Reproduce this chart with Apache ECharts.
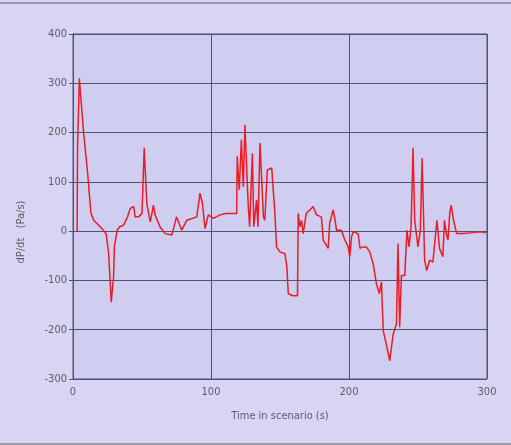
<!DOCTYPE html>
<html>
<head>
<meta charset="utf-8">
<script src="https://cdn.jsdelivr.net/npm/echarts@6/dist/echarts.min.js"></script>
<style>
  html, body { margin: 0; padding: 0; background: #d7d5f3; }
  #chart { width: 511px; height: 445px; }
</style>
</head>
<body>
<div id="chart"></div>
<script>
// time in scenario (s)
var times = [3, 3.3, 4.6, 7.7, 10.6, 13, 15, 18.6, 22, 24, 25.8, 27.7, 29.4, 30, 32, 33.8, 36.6, 39.5, 41.5, 44,
  45, 47.5, 50, 51.6, 53.5, 56, 58.3, 59.5, 63, 66.8, 71.6, 75, 78.8, 82.4, 89.7, 92, 93.8, 95.7, 98, 101.7,
  106.6, 111, 116, 118.6, 119, 120.5, 122, 123.4, 124.6, 125.8, 127, 128, 130, 131, 133, 134, 135.5, 138, 139, 140.8,
  144, 145, 146.3, 147.5, 150, 153.6, 155, 156, 159.6, 162.7, 163.2, 164.4, 165.6, 166.8, 169, 171.6, 174, 176.5, 180, 181.3,
  184.9, 186, 188.5, 189.7, 191, 194.5, 197, 199.4, 200.6, 201.8, 203, 206.6, 208, 210, 212.6, 215, 217.5, 218.7, 219.9, 222,
  223.5, 224.8, 227, 229.5, 232, 234.4, 235.5, 236.7, 238, 240.4, 242, 243.5, 245, 246.4, 247.6, 250, 251.7, 253,
  254.8, 256.3, 258.4, 260.8, 262, 263.7, 265.6, 268, 269.2, 270.5, 271.7, 273, 274, 275.8, 278, 282.6, 289.8, 294.6, 299.4];
// dP/dt (Pa/s)
var rates = [0, 172, 310, 199, 118, 36, 22, 12, 2, -5, -45, -144, -93, -32, 2, 9, 12, 29, 46, 50,
  29, 29, 36, 169, 56, 19, 53, 33, 9, -5, -8, 29, 2, 22, 29, 77, 56, 5, 33, 26,
  33, 36, 36, 36, 152, 84, 186, 90, 216, 131, 50, 9, 158, 9, 63, 9, 179, 29, 22, 124,
  128, 124, 36, -32, -42, -46, -73, -127, -131, -131, 36, 9, 22, -5, 36, 43, 50, 33, 29, -18,
  -35, 16, 43, 26, 2, 2, -18, -32, -52, -12, -1, -5, -35, -32, -32, -42, -66, -63, -107, -127,
  -103, -202, -229, -263, -209, -188, -25, -195, -90, -90, 2, -32, 9, 169, 22, -32, 2, 148,
  -59, -80, -59, -63, -59, 22, -35, -52, 22, -5, -18, 36, 53, 22, -5, -5, -3, -1, -3];
var xTicks = [0, 100, 200, 300];
var yTicks = [-300, -200, -100, 0, 100, 200, 300, 400];

var chart = echarts.init(document.getElementById('chart'));
var points = times.map(function (t, i) { return [t, rates[i]]; });
var font = '"DejaVu Sans Condensed", "Liberation Sans Narrow", "Liberation Sans", sans-serif';

chart.setOption({
  backgroundColor: '#d7d5f3',
  animation: false,
  textStyle: { fontFamily: font },
  grid: {
    left: 73, right: 24, top: 34, bottom: 66,
    show: true,
    backgroundColor: '#cfcdf0',
    borderColor: '#4f5277',
    borderWidth: 1
  },
  xAxis: {
    type: 'value',
    min: xTicks[0], max: xTicks[xTicks.length - 1], interval: 100,
    name: 'Time in scenario (s)',
    nameLocation: 'middle',
    nameGap: 32,
    nameTextStyle: { color: '#5b5b66', fontSize: 11, fontFamily: font },
    axisLine: { show: true, lineStyle: { color: '#4f5277', width: 1 } },
    axisTick: { show: false },
    axisLabel: { color: '#5b5b66', fontSize: 11, margin: 8, fontFamily: font },
    splitLine: { show: true, lineStyle: { color: '#4f5277', width: 1 } }
  },
  yAxis: {
    type: 'value',
    min: yTicks[0], max: yTicks[yTicks.length - 1], interval: 100,
    axisLine: { show: true, onZero: false, lineStyle: { color: '#4f5277', width: 1 } },
    axisTick: { show: true, length: 4, lineStyle: { color: '#4f5277' } },
    axisLabel: { color: '#5b5b66', fontSize: 11, margin: 6, fontFamily: font },
    splitLine: { show: true, lineStyle: { color: '#4f5277', width: 1 } }
  },
  graphic: [
    {
      type: 'text',
      x: 21, y: 232,
      rotation: Math.PI / 2,
      style: {
        text: 'dP/dt   (Pa/s)',
        fill: '#5b5b66',
        font: '11px ' + font,
        align: 'center',
        verticalAlign: 'middle'
      }
    },
    {
      type: 'line',
      shape: { x1: 0, y1: 3, x2: 511, y2: 3 },
      style: { stroke: '#9a9aa8', lineWidth: 2 }
    },
    {
      type: 'line',
      shape: { x1: 0, y1: 444, x2: 511, y2: 444 },
      style: { stroke: '#9a9aa8', lineWidth: 2 }
    }
  ],
  series: [{
    type: 'line',
    data: points,
    showSymbol: false,
    lineStyle: { color: '#ec1c24', width: 1.5 }
  }]
});
</script>
</body>
</html>
